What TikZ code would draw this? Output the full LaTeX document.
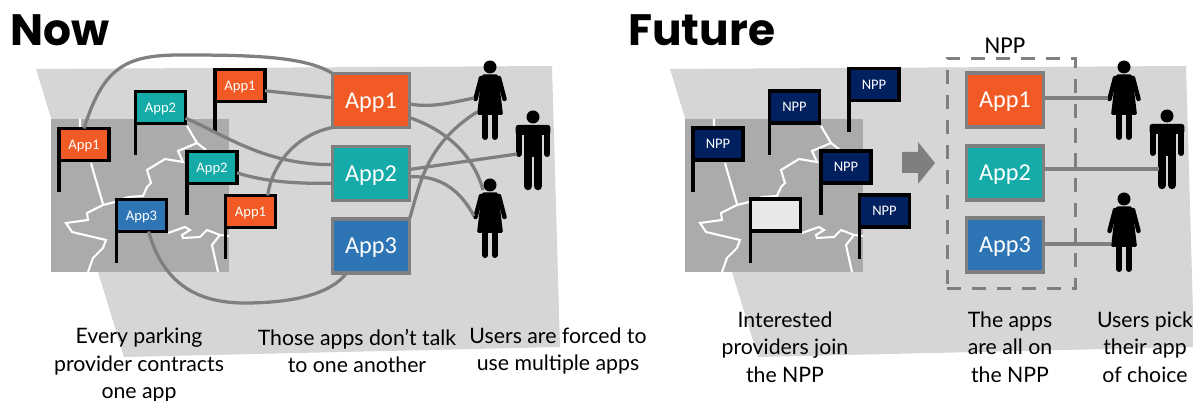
\documentclass[tikz,border=0pt]{standalone}
\usepackage{fontspec}
\setmainfont{Lato}
\newfontfamily\appfont{Carlito}
\newfontfamily\headfont{Poppins}
\definecolor{backgray}{HTML}{D6D6D6}
\definecolor{mapgray}{HTML}{ABABAB}
\definecolor{linegray}{HTML}{7F7F7F}
\definecolor{appone}{HTML}{F15A25}
\definecolor{apptwo}{HTML}{14ABA8}
\definecolor{appthree}{HTML}{2E75B6}
\definecolor{nppblue}{HTML}{002060}
\definecolor{flagblank}{HTML}{E8E8E8}
\tikzset{
  flagbox/.style={rectangle,draw=black,line width=.07cm,minimum width=1cm,minimum height=.64cm,
    inner sep=0pt,outer sep=0pt,text=white,text depth=0pt,font=\appfont\fontsize{8.3}{10}\selectfont},
  flagpole/.style={draw=black,line width=.07cm},
  appbox/.style={rectangle,draw=linegray,line width=.065cm,minimum width=1.54cm,minimum height=1.08cm,
    inner sep=0pt,outer sep=0pt,text=white,text depth=0pt,font=\appfont\fontsize{13.8}{16}\selectfont},
  link/.style={draw=linegray,line width=.065cm},
  caption/.style={align=center,inner sep=0pt,font=\fontsize{12.1}{15.6}\selectfont},
  headline/.style={anchor=base west,inner sep=0pt,font=\headfont\bfseries\fontsize{25}{30}\selectfont},
  regionmap/.pic={
    \fill[backgray] (36,69) -- (552,66) -- (560,347) -- (124,357) -- cycle;
    \fill[mapgray] (51,119) rectangle (229,272);
    \draw[white,line width=.042cm] (80,119) -- (80,127) (91,163) -- (95,177) -- (103,204);
    \draw[white,line width=.042cm] (88,272) -- (93,258) -- (103,248) -- (106,240) -- (72,232) -- (66,223)
      -- (88,220) -- (87,213) -- (103,205) -- (115,202) -- (128,197) -- (143,196) -- (147,187) -- (151,183)
      -- (147,170) -- (165,159) -- (183,162) -- (178,151) -- (197,143) -- (206,150);
    \draw[white,line width=.042cm] (197,143) -- (187,126);
    \draw[white,line width=.042cm] (168,233) -- (185,227) -- (190,230) -- (182,235) -- (183,238) -- (200,237)
      -- (207,230) -- (220,235) -- (229,236) (220,235) -- (212,245) -- (218,272);
  },
  woman/.pic={
    \fill (0,0) circle [radius=.13cm];
    \fill[rounded corners=.03cm] (-8,7.5) -- (8,7.5) -- (9,14) -- (13,48) -- (-13,48) -- (-9,14) -- cycle;
    \draw[line width=.09cm,line cap=round] (-9,11) -- (-14.5,32) (9,11) -- (14.5,32);
    \draw[line width=.12cm,line cap=round] (-4.7,48) -- (-4.7,70) (4.7,48) -- (4.7,70);
    \coordinate (-lh) at (-16,31);
    \coordinate (-lw) at (-13,45);
    \coordinate (-top) at (-7,5);
  },
  man/.pic={
    \fill (0,0) circle [radius=.13cm];
    \fill[rounded corners=.05cm] (-17.3,8) rectangle (17.3,18);
    \fill (-9.3,10) rectangle (9.3,40);
    \draw[line width=.12cm,line cap=round] (-14.3,14) -- (-14.3,37) (14.3,14) -- (14.3,37);
    \draw[line width=.17cm,line cap=round] (-5,40) -- (-5,69) (5,40) -- (5,69);
    \coordinate (-lh) at (-16,37);
    \coordinate (-hip) at (-8,53);
  }
}
\begin{document}
\begin{tikzpicture}[x=.02cm,y=-.02cm]
  \useasboundingbox (0,0) rectangle (1193,401);

  \pic at (0,0) {regionmap};
  \pic at (634,0) {regionmap};

  \node[headline] (now) at (10,46) {Now};
  \node[headline] (future) at (628,46) {Future};

  \begin{scope}[every node/.style={flagbox}]
    \node[fill=appone] (f1) at (84,144.5) {App1};
    \node[fill=apptwo] (f2) at (160.5,107.5) {App2};
    \node[fill=appone] (f3) at (240,85.5) {App1};
    \node[fill=apptwo] (f4) at (212,167.5) {App2};
    \node[fill=appthree] (f5) at (141.5,215.5) {App3};
    \node[fill=appone] (f6) at (250.5,211.5) {App1};

    \node[fill=nppblue] (n1) at (718,144) {NPP};
    \node[fill=nppblue] (n2) at (794.5,107) {NPP};
    \node[fill=nppblue] (n3) at (874,84.5) {NPP};
    \node[fill=nppblue] (n4) at (846,167) {NPP};
    \node[fill=flagblank] (n5) at (775.5,215) {};
    \node[fill=nppblue] (n6) at (884.5,211) {NPP};
  \end{scope}

  \foreach \f in {f1,f2,f3,f4,f5,f6,n1,n2,n3,n4,n5,n6}
    \draw[flagpole] (\f.south west) -- ++(0,32);

  \begin{scope}[every node/.style={appbox}]
    \node[fill=appone] (a1) at (371,100.5) {App1};
    \node[fill=apptwo] (a2) at (371,173.5) {App2};
    \node[fill=appthree] (a3) at (371,246) {App3};

    \node[fill=appone] (b1) at (1005,100) {App1};
    \node[fill=apptwo] (b2) at (1005,173) {App2};
    \node[fill=appthree] (b3) at (1005,245) {App3};
  \end{scope}

  \pic (u1) at (490,67) {woman};
  \pic (u2) at (533,117) {man};
  \pic (u3) at (490,185) {woman};

  \pic (v1) at (1124,67) {woman};
  \pic (v2) at (1167,116) {man};
  \pic (v3) at (1124,199) {woman};

  \begin{scope}[every path/.style={link}]
    \path (f1.north) .. controls (103,68) and (125,55) .. (180,55)
      .. controls (250,55) and (305,56) .. (a1.north west);
    \path (f3.-12) -- (a1.176);
    \path (f2.-23) .. controls (225,135) and (265,165) .. (a2.167);
    \path (f4.-12) .. controls (265,182) and (300,184) .. (a2.194);
    \path (f6.43) .. controls (272,165) and (295,135) .. (a1.south west);
    \path (f5.-66) .. controls (165,290) and (205,303) .. (245,303)
      .. controls (290,303) and (330,295) .. (a3.228);
    \path (a1.-5) .. controls (430,108) and (450,103) .. (u1-lh);
    \path (a1.-24) .. controls (440,128) and (472,150) .. (u3-top);
    \path (a2.6) -- (u2-lh);
    \path (a2.-5) .. controls (440,175) and (460,190) .. (u3-lh);
    \path (a3.north east) .. controls (420,185) and (425,145) .. (u1-lw);
    \path (b1.east |- v1-lh) -- (v1-lh);
    \path (b2.east |- v2-hip) -- (v2-hip);
    \path (b3.east |- v3-lw) -- (v3-lw);
  \end{scope}

  \node[font=\appfont\fontsize{13.8}{16}\selectfont,inner sep=0pt] (nplabel) at (1005,46) {NPP};
  \node[draw=linegray,line width=.06cm,dash pattern=on 8pt off 6.2pt,minimum width=2.56cm,minimum height=4.62cm,inner sep=0pt] (npbox) at (1011,173.5) {};

  \fill[linegray] (902,152) -- (918,152) -- (918,142) -- (935,163) -- (918,184) -- (918,173) -- (902,173) -- cycle;

  \begin{scope}[every node/.style={caption}]
    \node (c1) at (139,365) {Every parking\\provider contracts\\one app};
    \node (c2) at (357,351) {Those apps don’t talk\\to one another};
    \node (c3) at (558,351) {Users are forced to\\use multiple apps};
    \node (c4) at (785,347) {Interested\\providers join\\the NPP};
    \node (c5) at (1010,347) {The apps\\are all on\\the NPP};
    \node (c6) at (1145,347) {Users pick\\their app\\of choice};
  \end{scope}

\end{tikzpicture}
\end{document}
